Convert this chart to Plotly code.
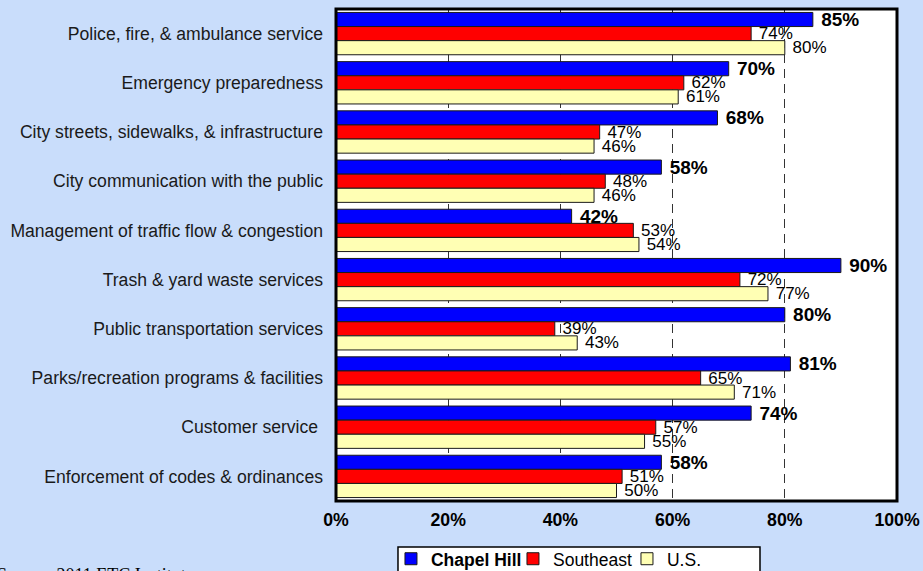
import plotly.graph_objects as go

categories = [
    "Police, fire, & ambulance service",
    "Emergency preparedness",
    "City streets, sidewalks, & infrastructure",
    "City communication with the public",
    "Management of traffic flow & congestion",
    "Trash & yard waste services",
    "Public transportation services",
    "Parks/recreation programs & facilities",
    "Customer service\u00a0",
    "Enforcement of codes & ordinances",
]
chapel_hill = [85, 70, 68, 58, 42, 90, 80, 81, 74, 58]
southeast = [74, 62, 47, 48, 53, 72, 39, 65, 57, 51]
us = [80, 61, 46, 46, 54, 77, 43, 71, 55, 50]
x_ticks = [0, 20, 40, 60, 80, 100]
x_tick_labels = ["0%", "20%", "40%", "60%", "80%", "100%"]
series_names = ["<b>Chapel Hill</b>", "Southeast", "U.S."]
source_note = "Source: 2011 ETC Institute"

FONT = "Arial, 'Liberation Sans', sans-serif"
colors = ["#0000FF", "#FF0000", "#FFFFB4"]
label_sizes = [19, 17, 17]
label_weights = ["bold", "normal", "normal"]
legend_widths = [77, 69, 40]

fig = go.Figure()
for name, vals, col, ls, lw, lgw in zip(series_names, [chapel_hill, southeast, us], colors,
                                        label_sizes, label_weights, legend_widths):
    fig.add_trace(go.Bar(
        y=categories, x=vals, name=name, orientation="h",
        marker=dict(color=col, line=dict(color="#1a1a1a", width=1)),
        text=[f"\u00a0{v}%" for v in vals],
        textposition="outside",
        textfont=dict(family=FONT, size=ls, color="#000000", weight=lw),
        constraintext="none", cliponaxis=False,
        legendwidth=lgw,
        hoverinfo="skip",
    ))

fig.update_layout(
    width=923, height=571,
    margin=dict(l=336, r=26, t=9, b=70, pad=0, autoexpand=False),
    paper_bgcolor="#C9DDFB",
    plot_bgcolor="#FFFFFF",
    barmode="group", bargap=0.14, bargroupgap=0,
    font=dict(family=FONT, size=17.6, color="#000000"),
    showlegend=True,
    legend=dict(
        orientation="h", x=0.098, xanchor="left", y=-0.081, yanchor="top",
        bgcolor="rgba(0,0,0,0)", borderwidth=0,
        font=dict(family=FONT, size=17.5, color="#000000"),
        traceorder="normal", itemwidth=30,
    ),
    xaxis=dict(
        range=[0, 100], tickvals=x_ticks, ticktext=x_tick_labels,
        tickfont=dict(family=FONT, size=17.7, color="#000000", weight="bold"),
        showgrid=True, gridcolor="#333333", gridwidth=1, griddash="9px,6px",
        zeroline=False, showline=False, ticks="", ticklabelstandoff=6,
        fixedrange=True,
    ),
    yaxis=dict(
        type="category", autorange="reversed",
        tickfont=dict(family=FONT, size=17.6, color="#1a1a1a"),
        showgrid=False, zeroline=False, showline=False, ticks="",
        ticklabelstandoff=12, fixedrange=True,
    ),
    shapes=[
        dict(type="rect", xref="paper", yref="paper", x0=0, x1=1, y0=0, y1=1,
             line=dict(color="#000000", width=3), fillcolor="rgba(0,0,0,0)", layer="above"),
        dict(type="rect", xref="paper", yref="paper", x0=0.1105, x1=0.7558, y0=-0.0935, y1=-0.25,
             line=dict(color="#000000", width=1.5), fillcolor="#FFFFFF", layer="above"),
    ],
    annotations=[
        dict(text=source_note, xref="paper", yref="paper", x=-0.608, y=-0.127,
             xanchor="left", yanchor="top", showarrow=False,
             font=dict(family="'Liberation Serif', 'Times New Roman', serif", size=18, color="#000000")),
    ],
)

fig.write_html(
    "out.html",
    config={"displayModeBar": False},
    post_script="document.body.style.margin='0';document.body.style.overflow='hidden';",
)
